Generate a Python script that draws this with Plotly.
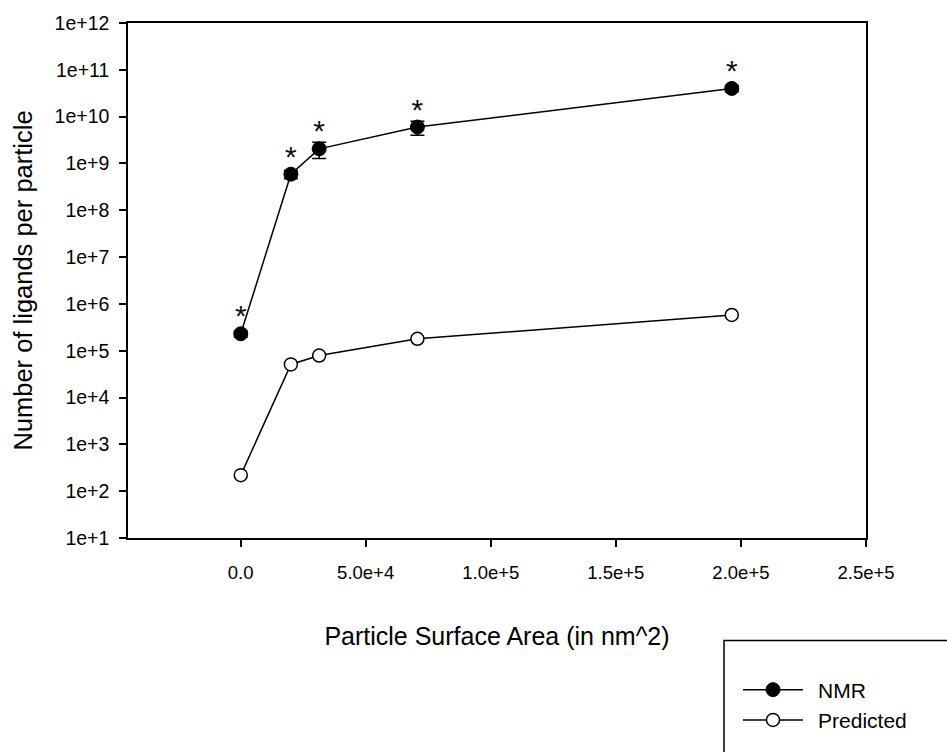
import plotly.graph_objects as go

# Data
surface_area = [78.5, 20106, 31416, 70686, 196350]
nmr_values = [2.3e5, 5.9e8, 2.05e9, 6.0e9, 4.0e10]
nmr_errors = [3.5e4, 1.2e8, 7.8e8, 2.0e9, 6.0e9]
predicted_values = [2.2e2, 5.1e4, 7.9e4, 1.8e5, 5.8e5]
nmr_marks = ["*", "*", "*", "*", "*"]

x_tickvals = [0, 50000, 100000, 150000, 200000, 250000]
x_ticktext = ["0.0", "5.0e+4", "1.0e+5", "1.5e+5", "2.0e+5", "2.5e+5"]
y_tickvals = [10 ** k for k in range(1, 13)]
y_ticktext = ["1e+%d" % k for k in range(1, 13)]

FONT = "Arial, Liberation Sans, sans-serif"

fig = go.Figure()

fig.add_trace(go.Scatter(
    x=surface_area, y=nmr_values, name="\u00a0\u2009NMR",
    mode="lines+markers",
    line=dict(color="black", width=1.5),
    marker=dict(symbol="circle", size=14, color="black",
                line=dict(color="black", width=1)),
    error_y=dict(type="data", array=nmr_errors, visible=True,
                 color="black", thickness=1.5, width=7),
))

fig.add_trace(go.Scatter(
    x=surface_area, y=predicted_values, name="\u00a0\u2009Predicted",
    mode="lines+markers",
    line=dict(color="black", width=1.5),
    marker=dict(symbol="circle", size=13, color="white",
                line=dict(color="black", width=1.5)),
))

# significance asterisks above NMR points
fig.add_trace(go.Scatter(
    x=surface_area, y=nmr_values, mode="text",
    text=nmr_marks, textposition="top center",
    textfont=dict(family=FONT, size=30, color="#111111"),
    showlegend=False, hoverinfo="skip",
))

fig.update_layout(
    width=947, height=752,
    margin=dict(l=128, r=81, t=23, b=212),
    paper_bgcolor="white", plot_bgcolor="white",
    font=dict(family=FONT, color="black"),
    showlegend=True,
    legend=dict(
        x=(738 - 128) / 738, y=(540 - 672) / 517,
        xanchor="left", yanchor="top",
        bgcolor="rgba(0,0,0,0)", borderwidth=0,
        font=dict(family=FONT, size=21, color="black"),
        itemwidth=60,
    ),
    shapes=[dict(
        type="rect", xref="paper", yref="paper",
        x0=(724 - 128) / 738, x1=(960 - 128) / 738,
        y0=(540 - 770) / 517, y1=(540 - 643) / 517,
        line=dict(color="black", width=1.5), fillcolor="rgba(0,0,0,0)",
    )],
    xaxis=dict(
        range=[-45000, 250000],
        tickmode="array", tickvals=x_tickvals, ticktext=x_ticktext,
        ticks="outside", ticklen=7, tickwidth=1.5, tickcolor="black",
        showline=True, linecolor="black", linewidth=1.5, mirror=True,
        showgrid=False, zeroline=False,
        ticklabelstandoff=10,
        tickfont=dict(family=FONT, size=18.5, color="black"),
        title=dict(text="Particle Surface Area (in nm^2)",
                   font=dict(family=FONT, size=25, color="black"),
                   standoff=46),
    ),
    yaxis=dict(
        type="log", range=[1, 12],
        tickmode="array", tickvals=y_tickvals, ticktext=y_ticktext,
        ticks="outside", ticklen=7, tickwidth=1.5, tickcolor="black",
        showline=True, linecolor="black", linewidth=1.5, mirror=True,
        showgrid=False, zeroline=False,
        ticklabelstandoff=6,
        tickfont=dict(family=FONT, size=19.5, color="black"),
        title=dict(text="Number of ligands per particle",
                   font=dict(family=FONT, size=25.5, color="black"),
                   standoff=15),
    ),
)

fig.write_html("out.html")
